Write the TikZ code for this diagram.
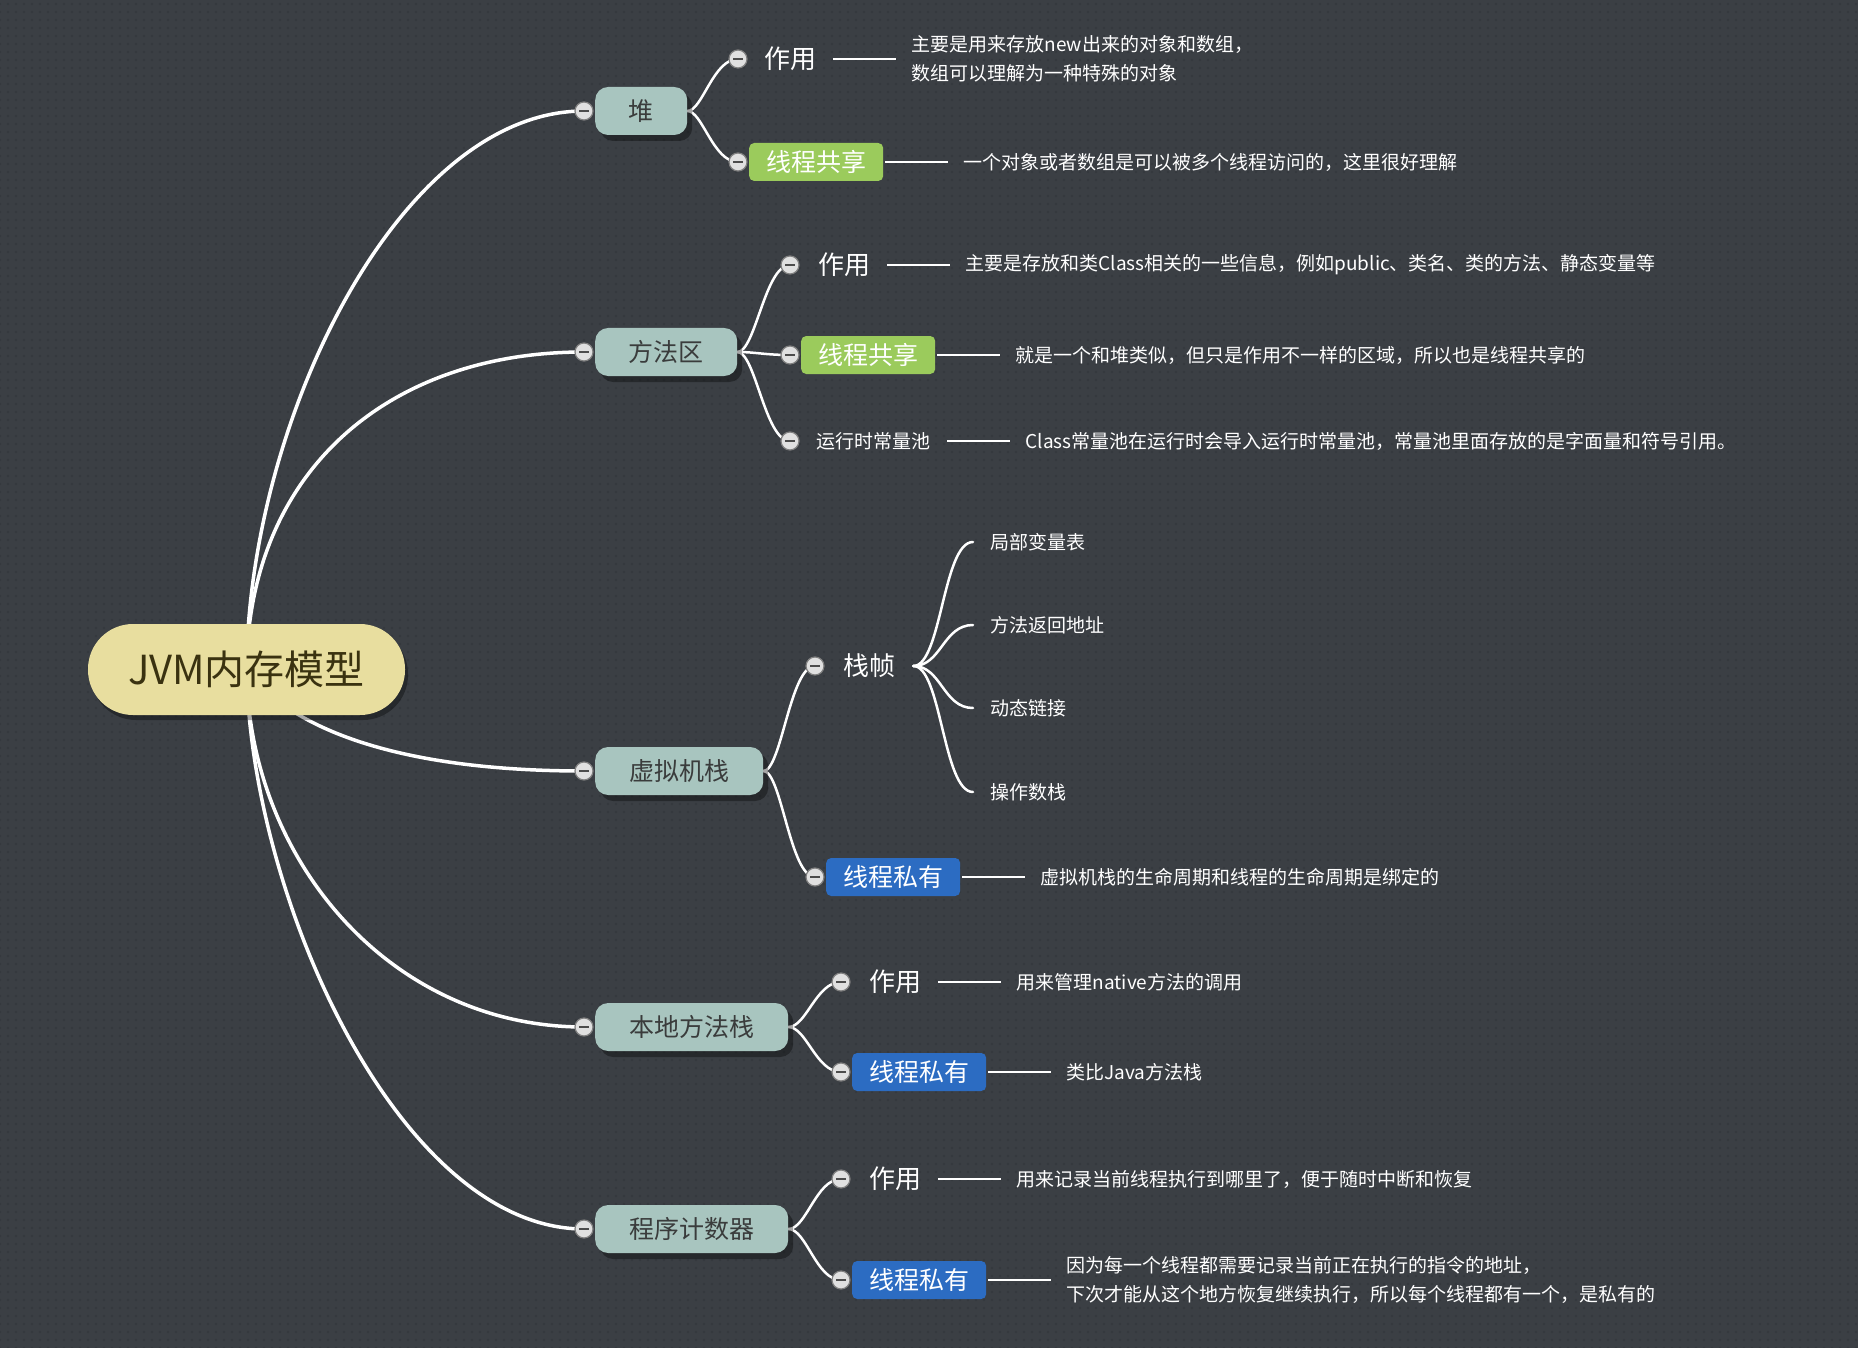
\documentclass[tikz,border=0pt]{standalone}
\usepackage{fontspec}
\setmainfont{Noto Sans CJK SC}
\usetikzlibrary{shadows,calc,positioning,patterns.meta}
\definecolor{bgc}{HTML}{3B3F44}
\definecolor{dotc}{HTML}{34373C}
\definecolor{pillc}{HTML}{A8C5BF}
\definecolor{rootc}{HTML}{E8DE9F}
\definecolor{roott}{HTML}{3A3210}
\definecolor{greenc}{HTML}{9BCB5C}
\definecolor{bluec}{HTML}{2C6CC2}
\definecolor{pillt}{HTML}{3A3C3C}
\pgfdeclarelayer{bg}\pgfdeclarelayer{lines}\pgfsetlayers{bg,lines,main}
\begin{document}
\begin{tikzpicture}[x=1pt,y=-1pt,
 rootnode/.style={rounded corners=45pt, fill=rootc, text=roott, minimum width=317pt, minimum height=91pt, inner sep=0pt, font=\fontsize{40}{44}\selectfont, drop shadow={shadow xshift=3pt, shadow yshift=-5pt, fill=black, opacity=0.35}},
 pill/.style={rounded corners=13pt, fill=pillc, text=pillt, minimum height=48pt, inner sep=0pt, font=\fontsize{25}{28}\selectfont, drop shadow={shadow xshift=5pt,shadow yshift=-6pt,fill=black,opacity=0.35}},
 tagbox/.style={rounded corners=5pt, minimum width=134pt, minimum height=38pt, inner sep=0pt, text=white, font=\fontsize{25}{28}\selectfont},
 greenbox/.style={tagbox, fill=greenc},
 bluebox/.style={tagbox, fill=bluec},
 lab/.style={inner sep=0pt, text=white, anchor=west, font=\fontsize{26}{30}\selectfont},
 smalllab/.style={inner sep=0pt, text=white, anchor=west, font=\fontsize{19}{29}\selectfont},
 desc/.style={inner sep=0pt, text=white, align=left, anchor=west, font=\fontsize{19}{29}\selectfont},
 fold/.style={circle, minimum size=18pt, inner sep=0pt, fill=white!88!black, draw=white!50!black, line width=1.2pt, path picture={\draw[line width=2pt, draw=white!30!black] ([xshift=-5pt]path picture bounding box.center) -- ([xshift=5pt]path picture bounding box.center);}},
 mainbranch/.style={draw=white, line width=3.5pt, line cap=round},
 subbranch/.style={draw=white, line width=2.5pt, line cap=round},
 descline/.style={draw=white, line width=2.5pt},
]
\useasboundingbox (0,0) rectangle (1858,1348);
\begin{pgfonlayer}{bg}
\fill[bgc] (0,0) rectangle (1858,1348);
\fill[pattern={Dots[distance=8pt, radius=1.1pt]}, pattern color=dotc] (0,0) rectangle (1858,1348);
\end{pgfonlayer}

% root
\node[rootnode] (root) at (246.5,669.5) {JVM内存模型};

% first level
\node[pill, minimum width=92pt, anchor=west] (heap) at (595,111) {堆};
\node[pill, minimum width=142pt, anchor=west] (mth) at (595,352) {方法区};
\node[pill, minimum width=168pt, anchor=west] (vms) at (595,771) {虚拟机栈};
\node[pill, minimum width=193pt, anchor=west] (nms) at (595,1027) {本地方法栈};
\node[pill, minimum width=193pt, anchor=west] (pc) at (595,1229) {程序计数器};
\node[fold] (fheap) at (584,111) {};
\node[fold] (fmth) at (584,352) {};
\node[fold] (fvms) at (584,771) {};
\node[fold] (fnms) at (584,1027) {};
\node[fold] (fpc) at (584,1229) {};

% heap children
\node[fold] (fh1) at (738,59) {};
\node[lab] (h1) at (764,59) {作用};
\node[desc, right=95pt of h1] (h1d) {主要是用来存放new出来的对象和数组，\\数组可以理解为一种特殊的对象};
\node[fold] (fh2) at (738,162) {};
\node[greenbox, anchor=west] (h2) at (749,162) {线程共享};
\node[desc, right=80pt of h2] (h2d) {一个对象或者数组是可以被多个线程访问的，这里很好理解};

% method area children
\node[fold] (fm1) at (790,265) {};
\node[lab] (m1) at (818,265) {作用};
\node[desc, right=95pt of m1] (m1d) {主要是存放和类Class相关的一些信息，例如public、类名、类的方法、静态变量等};
\node[fold] (fm2) at (790,355) {};
\node[greenbox, anchor=west] (m2) at (801,355) {线程共享};
\node[desc, right=80pt of m2] (m2d) {就是一个和堆类似，但只是作用不一样的区域，所以也是线程共享的};
\node[fold] (fm3) at (790,441) {};
\node[smalllab] (m3) at (816,441) {运行时常量池};
\node[desc, right=95pt of m3] (m3d) {Class常量池在运行时会导入运行时常量池，常量池里面存放的是字面量和符号引用。};

% vm stack children
\node[fold] (fv1) at (815,666) {};
\node[lab] (v1) at (843,666) {栈帧};
\coordinate (vfan) at ($(v1.east)+(18,0)$);
\node[smalllab] (s1) at (990,542) {局部变量表};
\node[smalllab] (s2) at (990,625) {方法返回地址};
\node[smalllab] (s3) at (990,708) {动态链接};
\node[smalllab] (s4) at (990,792) {操作数栈};
\node[fold] (fv2) at (815,877) {};
\node[bluebox, anchor=west] (v2) at (826,877) {线程私有};
\node[desc, right=80pt of v2] (v2d) {虚拟机栈的生命周期和线程的生命周期是绑定的};

% native method stack children
\node[fold] (fn1) at (841,982) {};
\node[lab] (n1) at (869,982) {作用};
\node[desc, right=95pt of n1] (n1d) {用来管理native方法的调用};
\node[fold] (fn2) at (841,1072) {};
\node[bluebox, anchor=west] (n2) at (852,1072) {线程私有};
\node[desc, right=80pt of n2] (n2d) {类比Java方法栈};

% program counter children
\node[fold] (fp1) at (841,1179) {};
\node[lab] (p1) at (869,1179) {作用};
\node[desc, right=95pt of p1] (p1d) {用来记录当前线程执行到哪里了，便于随时中断和恢复};
\node[fold] (fp2) at (841,1280) {};
\node[bluebox, anchor=west] (p2) at (852,1280) {线程私有};
\node[desc, right=80pt of p2] (p2d) {因为每一个线程都需要记录当前正在执行的指令的地址，\\下次才能从这个地方恢复继续执行，所以每个线程都有一个，是私有的};

\begin{pgfonlayer}{lines}
% root branches
\draw[mainbranch] (root.center) .. controls +(2,-250) and +(-184,0) .. (fheap.center);
\draw[mainbranch] (root.center) .. controls +(2,-200) and +(-194,0) .. (fmth.center);
\draw[mainbranch] (root.center) .. controls +(44,60) and +(-184,0) .. (fvms.center);
\draw[mainbranch] (root.center) .. controls +(2,190) and +(-194,0) .. (fnms.center);
\draw[mainbranch] (root.center) .. controls +(4,230) and +(-184,0) .. (fpc.center);
% sub branches
\draw[subbranch] (heap.east) .. controls +(15,0) and +(-25,0) .. (fh1.center);
\draw[subbranch] (heap.east) .. controls +(15,0) and +(-25,0) .. (fh2.center);
\draw[subbranch] (mth.east) .. controls +(18,0) and +(-25,0) .. (fm1.center);
\draw[subbranch] (mth.east) .. controls +(18,0) and +(-25,0) .. (fm2.center);
\draw[subbranch] (mth.east) .. controls +(18,0) and +(-25,0) .. (fm3.center);
\draw[subbranch] (vms.east) .. controls +(18,0) and +(-25,0) .. (fv1.center);
\draw[subbranch] (vms.east) .. controls +(18,0) and +(-25,0) .. (fv2.center);
\draw[subbranch] (nms.east) .. controls +(18,0) and +(-25,0) .. (fn1.center);
\draw[subbranch] (nms.east) .. controls +(18,0) and +(-25,0) .. (fn2.center);
\draw[subbranch] (pc.east) .. controls +(18,0) and +(-25,0) .. (fp1.center);
\draw[subbranch] (pc.east) .. controls +(18,0) and +(-25,0) .. (fp2.center);
% stack frame fan
\foreach \s in {s1,s2,s3,s4}{
  \draw[subbranch] (vfan) .. controls +(28,0) and +(-30,0) .. ($(\s.west)+(-17,0)$);
}
% description lines
\draw[descline, shorten <=17pt, shorten >=15pt] (h1.east) -- (h1d.west);
\draw[descline, shorten <=2pt, shorten >=15pt] (h2.east) -- (h2d.west);
\draw[descline, shorten <=17pt, shorten >=15pt] (m1.east) -- (m1d.west);
\draw[descline, shorten <=2pt, shorten >=15pt] (m2.east) -- (m2d.west);
\draw[descline, shorten <=17pt, shorten >=15pt] (m3.east) -- (m3d.west);
\draw[descline, shorten <=2pt, shorten >=15pt] (v2.east) -- (v2d.west);
\draw[descline, shorten <=17pt, shorten >=15pt] (n1.east) -- (n1d.west);
\draw[descline, shorten <=2pt, shorten >=15pt] (n2.east) -- (n2d.west);
\draw[descline, shorten <=17pt, shorten >=15pt] (p1.east) -- (p1d.west);
\draw[descline, shorten <=2pt, shorten >=15pt] (p2.east) -- (p2d.west);
\end{pgfonlayer}
\end{tikzpicture}
\end{document}
